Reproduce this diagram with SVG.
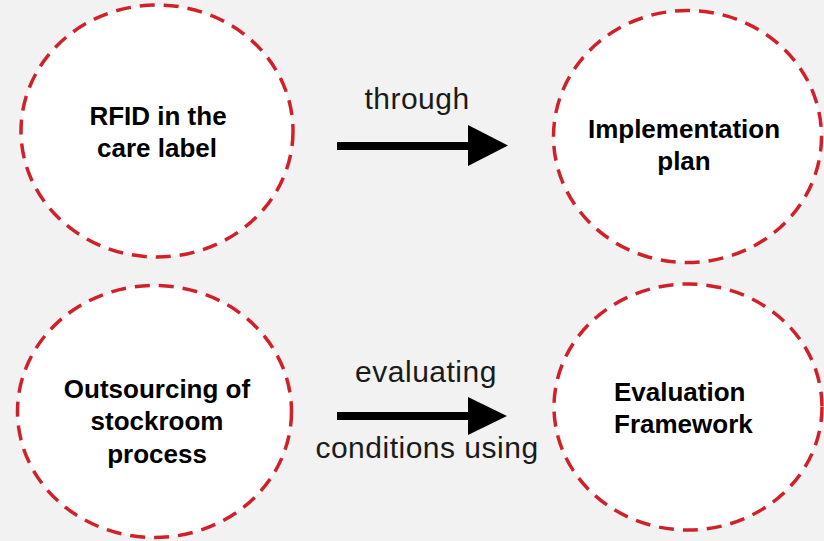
<svg xmlns="http://www.w3.org/2000/svg" width="824" height="541" viewBox="0 0 824 541">
<style>
.node{fill:#ffffff;stroke:#d0212b;stroke-width:3.5;stroke-dasharray:15 9}
.lbl{font-family:"Liberation Sans",Arial,sans-serif;font-weight:bold;font-size:26px;fill:#000;text-anchor:middle}
.elbl{font-family:"Liberation Sans",Arial,sans-serif;font-size:30px;letter-spacing:0.5px;fill:#1a1a1a;text-anchor:middle}
.shaft{stroke:#000;stroke-width:8;fill:none}
.head{fill:#000}
</style>
<rect width="824" height="541" fill="#f2f2f2"/>
<g id="node-rfid">
<ellipse class="node" cx="157" cy="131" rx="136" ry="126"/>
<text class="lbl" x="158" y="125">RFID in the</text>
<text class="lbl" x="157" y="157">care label</text>
</g>
<g id="node-implementation">
<ellipse class="node" cx="687.5" cy="136.5" rx="134" ry="126"/>
<text class="lbl" x="684" y="138">Implementation</text>
<text class="lbl" x="684" y="170">plan</text>
</g>
<g id="node-outsourcing">
<ellipse class="node" cx="154.5" cy="411.5" rx="137" ry="126"/>
<text class="lbl" x="157" y="398">Outsourcing of</text>
<text class="lbl" x="157" y="430">stockroom</text>
<text class="lbl" x="157" y="463">process</text>
</g>
<g id="node-evaluation">
<ellipse class="node" cx="688" cy="407" rx="134" ry="123"/>
<text class="lbl" x="614" y="401" style="text-anchor:start">Evaluation</text>
<text class="lbl" x="614" y="433" style="text-anchor:start">Framework</text>
</g>
<g id="connectors">
<line class="shaft" x1="337" y1="146" x2="470" y2="146"/>
<polygon class="head" points="468,125 508,145.5 468,166"/>
<text class="elbl" x="417" y="109">through</text>
<line class="shaft" x1="337" y1="416" x2="470" y2="416"/>
<polygon class="head" points="468,397 507,416 468,435"/>
<text class="elbl" x="426" y="382">evaluating</text>
<text class="elbl" x="427" y="458">conditions using</text>
</g>
</svg>
